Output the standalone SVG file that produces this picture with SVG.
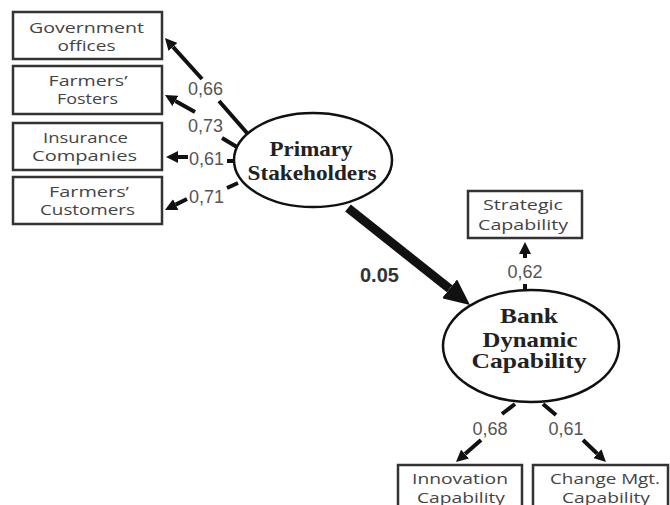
<svg xmlns="http://www.w3.org/2000/svg" width="670" height="505" viewBox="0 0 670 505">
<style>
.box{fill:#fff;stroke:#333;stroke-width:2.5}
.ell{fill:#fff;stroke:#111;stroke-width:2.5}
.bt{font-family:"Open Sans","Liberation Sans",sans-serif;font-size:15px;fill:#444;text-anchor:middle}
.et{font-family:"Liberation Serif",serif;font-weight:bold;font-size:21px;fill:#222;text-anchor:middle}
.lab{font-family:"Liberation Sans",Arial,sans-serif;font-size:18px;fill:#555}
.big{font-family:"Liberation Sans",Arial,sans-serif;font-size:20px;font-weight:bold;fill:#333}
.c{fill:none;stroke:#111;stroke-width:4}
.ca{fill:none;stroke:#111;stroke-width:4;marker-end:url(#ah)}
.cb{fill:none;stroke:#111;stroke-width:9;marker-end:url(#ahb)}
</style>
<defs>
<marker id="ah" viewBox="0 0 12 12" refX="0" refY="6" markerWidth="12" markerHeight="12" markerUnits="userSpaceOnUse" orient="auto"><path d="M0,0 L12,6 L0,12 z" fill="#111"/></marker>
<marker id="ahb" viewBox="0 0 26 24" refX="0" refY="12" markerWidth="26" markerHeight="24" markerUnits="userSpaceOnUse" orient="auto"><path d="M0,0 L26,12 L0,24 z" fill="#111"/></marker>
</defs>
<rect width="670" height="505" fill="#fff"/>
<g id="connectors">
<path class="c" d="M247,133 L219,101"/>
<path class="ca" d="M202,79 L173,46.9"/>
<path class="c" d="M237,147 L222,138"/>
<path class="ca" d="M195,112 L175.4,100.9"/>
<path class="c" d="M235,161 L227,161"/>
<path class="ca" d="M188,157 L178,157"/>
<path class="c" d="M238,183 L227,188"/>
<path class="ca" d="M187,199 L175.7,204.6"/>
<path class="cb" d="M348,208 L449.6,288.8"/>
<path class="c" d="M525,291 L525,284"/>
<path class="ca" d="M525,258 L525,254"/>
<path class="c" d="M515,404 L502,414"/>
<path class="ca" d="M481,440 L465,454.1"/>
<path class="c" d="M543,404 L556,415"/>
<path class="ca" d="M583,440 L597.3,453.7"/>
<text class="lab" x="188" y="95">0,66</text>
<text class="lab" x="188" y="132">0,73</text>
<text class="lab" x="189" y="165">0,61</text>
<text class="lab" x="189" y="203">0,71</text>
<text class="big" x="360" y="282">0.05</text>
<text class="lab" x="525" y="278" text-anchor="middle">0,62</text>
<text class="lab" x="490" y="435" text-anchor="middle">0,68</text>
<text class="lab" x="566" y="435" text-anchor="middle">0,61</text>
</g>
<g id="gov">
<rect class="box" x="13" y="12" width="149" height="47"/>
<text class="bt" x="86.5" y="33" textLength="115" lengthAdjust="spacingAndGlyphs">Government</text>
<text class="bt" x="86.5" y="51" textLength="58" lengthAdjust="spacingAndGlyphs">offices</text>
</g>
<g id="fosters">
<rect class="box" x="13" y="66" width="149" height="48"/>
<text class="bt" x="88" y="86" textLength="79" lengthAdjust="spacingAndGlyphs">Farmers’</text>
<text class="bt" x="87.5" y="104" textLength="61" lengthAdjust="spacingAndGlyphs">Fosters</text>
</g>
<g id="insurance">
<rect class="box" x="13" y="123" width="149" height="47"/>
<text class="bt" x="85.5" y="143" textLength="85" lengthAdjust="spacingAndGlyphs">Insurance</text>
<text class="bt" x="84.5" y="161" textLength="105" lengthAdjust="spacingAndGlyphs">Companies</text>
</g>
<g id="customers">
<rect class="box" x="13" y="177" width="149" height="47"/>
<text class="bt" x="89" y="197" textLength="80" lengthAdjust="spacingAndGlyphs">Farmers’</text>
<text class="bt" x="87.5" y="215" textLength="95" lengthAdjust="spacingAndGlyphs">Customers</text>
</g>
<g id="primary">
<ellipse class="ell" cx="313" cy="160" rx="79" ry="47"/>
<text class="et" x="311" y="156" textLength="83" lengthAdjust="spacingAndGlyphs">Primary</text>
<text class="et" x="312" y="180" textLength="129" lengthAdjust="spacingAndGlyphs">Stakeholders</text>
</g>
<g id="strategic">
<rect class="box" x="468" y="191" width="114" height="47"/>
<text class="bt" x="523" y="210" textLength="80" lengthAdjust="spacingAndGlyphs">Strategic</text>
<text class="bt" x="523" y="230" textLength="90" lengthAdjust="spacingAndGlyphs">Capability</text>
</g>
<g id="bank">
<ellipse class="ell" cx="531" cy="346" rx="88" ry="56"/>
<text class="et" x="529" y="323" textLength="58" lengthAdjust="spacingAndGlyphs">Bank</text>
<text class="et" x="530" y="347" textLength="95" lengthAdjust="spacingAndGlyphs">Dynamic</text>
<text class="et" x="529" y="368" textLength="115" lengthAdjust="spacingAndGlyphs">Capability</text>
</g>
<g id="innovation">
<rect class="box" x="398" y="465" width="124" height="50"/>
<text class="bt" x="460" y="484" textLength="96" lengthAdjust="spacingAndGlyphs">Innovation</text>
<text class="bt" x="461" y="503" textLength="88" lengthAdjust="spacingAndGlyphs">Capability</text>
</g>
<g id="change">
<rect class="box" x="533" y="465" width="135" height="50"/>
<text class="bt" x="605" y="484" textLength="110" lengthAdjust="spacingAndGlyphs">Change Mgt.</text>
<text class="bt" x="606" y="503" textLength="88" lengthAdjust="spacingAndGlyphs">Capability</text>
</g>
</svg>
